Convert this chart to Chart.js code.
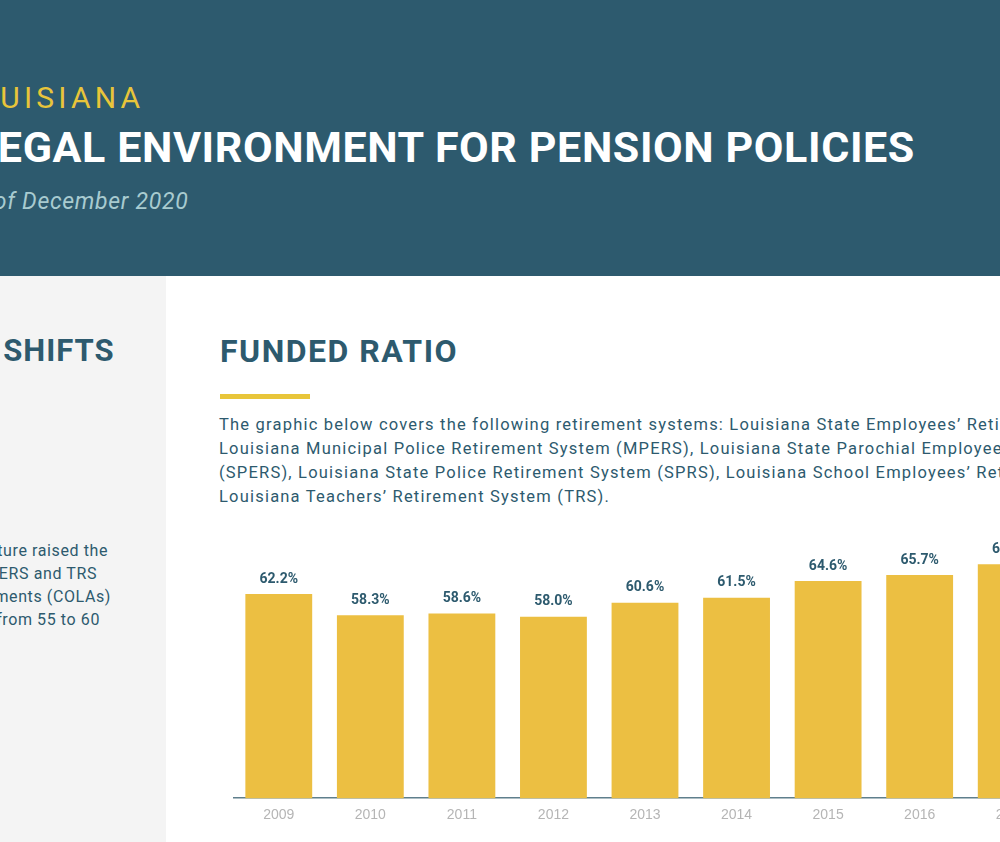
<!DOCTYPE html>
<html><head><meta charset="utf-8">
<script src="https://cdn.jsdelivr.net/npm/chart.js@4"></script>
<style>
html,body{margin:0;padding:0;width:1000px;height:842px;overflow:hidden;background:#fff;font-family:Roboto,"Noto Sans",sans-serif;}
.abs{position:absolute;white-space:nowrap;}
#hdr{position:absolute;left:0;top:0;width:1000px;height:276px;background:#2d5a6e;overflow:hidden;}
#side{position:absolute;left:0;top:276px;width:166px;height:566px;background:#f4f4f4;overflow:hidden;}
.sl{position:absolute;white-space:nowrap;text-align:right;font-size:16px;color:#2d5a6e;letter-spacing:0.6px;}
.p{position:absolute;left:219px;white-space:nowrap;font-size:16.5px;color:#2d5a6e;letter-spacing:1.2px;}
#wrap{position:absolute;left:233px;top:530px;width:824px;height:303px;}
</style></head><body>
<div id="hdr">
 <div class="abs" style="left:-44px;top:80px;font-size:30px;color:#e8c53a;letter-spacing:4.2px;">LOUISIANA</div>
 <div class="abs" style="left:-26px;top:122px;font-size:43px;font-weight:700;color:#fff;letter-spacing:0.6px;">LEGAL ENVIRONMENT FOR PENSION POLICIES</div>
 <div class="abs" style="left:-40px;top:188px;font-size:23px;font-style:italic;color:#a8cbd0;letter-spacing:0.7px;">As of December 2020</div>
</div>
<div id="side">
 <div class="abs" style="left:-144px;top:56px;font-size:31px;font-weight:700;color:#2d5a6e;letter-spacing:1px;">FUNDING SHIFTS</div>
 <div class="sl" style="right:58px;top:265px;">The legislature raised the</div>
 <div class="sl" style="right:69px;top:288px;">for LASERS and TRS</div>
 <div class="sl" style="right:55px;top:311px;">adjustments (COLAs)</div>
 <div class="sl" style="right:66px;top:334px;">age from 55 to 60</div>
</div>
<div class="abs" style="left:220px;top:332px;font-size:32px;font-weight:700;color:#2d5a6e;letter-spacing:1.5px;">FUNDED RATIO</div>
<div class="abs" style="left:220px;top:394px;width:90px;height:5px;background:#e8c53a;"></div>
<div class="p" style="top:415px;">The graphic below covers the following retirement systems: Louisiana State Employees’ Retirement System (LASERS),</div>
<div class="p" style="top:439px;">Louisiana Municipal Police Retirement System (MPERS), Louisiana State Parochial Employees’ Retirement System</div>
<div class="p" style="top:463px;">(SPERS), Louisiana State Police Retirement System (SPRS), Louisiana School Employees’ Retirement System and</div>
<div class="p" style="top:487px;">Louisiana Teachers’ Retirement System (TRS).</div>
<div id="wrap"><canvas id="c"></canvas></div>
<script>
const years=["2009","2010","2011","2012","2013","2014","2015","2016","2017"];
const funded=[62.2,58.3,58.6,58.0,60.6,61.5,64.6,65.7,67.7];
const lbl={id:'lbl',afterDatasetsDraw(ch){const ctx=ch.ctx;ctx.save();ctx.font='bold 14px Roboto';ctx.fillStyle='#2d5a6e';ctx.textAlign='center';ctx.textBaseline='bottom';
ch.getDatasetMeta(0).data.forEach((b,i)=>ctx.fillText(funded[i].toFixed(1)+'%',b.x,b.y-8));ctx.restore();}};
new Chart(document.getElementById('c'),{type:'bar',data:{labels:years,datasets:[{data:funded,backgroundColor:'#ecbf42',categoryPercentage:1,barPercentage:0.73}]},
options:{responsive:true,maintainAspectRatio:false,animation:false,layout:{padding:0},plugins:{legend:{display:false},tooltip:{enabled:false}},
scales:{y:{display:false,min:24.6,max:74},x:{grid:{display:false,drawTicks:false},border:{color:'#5f7f8c',width:1.5},ticks:{color:'#b5b5b5',font:{size:14},padding:9}}}},plugins:[lbl]});
</script>
</body></html>
